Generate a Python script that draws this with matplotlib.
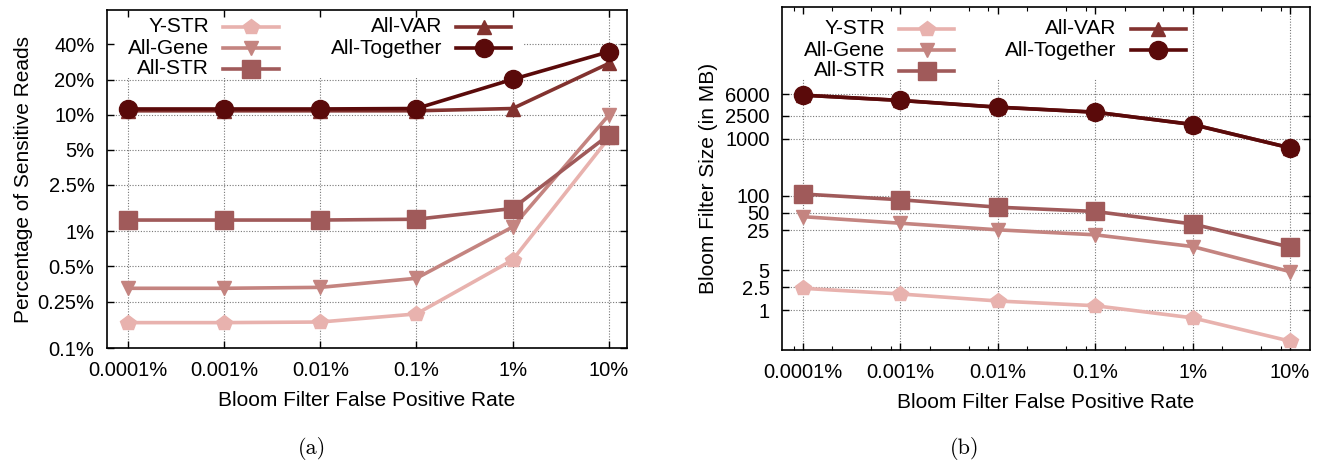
import matplotlib
matplotlib.use("Agg")
import matplotlib.pyplot as plt
from matplotlib.patches import Rectangle
from matplotlib.ticker import FixedLocator, NullLocator, LogLocator

plt.rcParams["font.family"] = ["Liberation Sans", "DejaVu Sans"]
plt.rcParams["font.size"] = 15
plt.rcParams["xtick.labelsize"] = 14.5
plt.rcParams["ytick.labelsize"] = 14.5

# false positive rate (%) on the x axis
fpr = [1e-4, 1e-3, 1e-2, 1e-1, 1, 10]
fpr_labels = ["0.0001%", "0.001%", "0.01%", "0.1%", "1%", "10%"]

series = ["Y-STR", "All-Gene", "All-STR", "All-VAR", "All-Together"]
colors = ["#e8b2ae", "#c48480", "#a05a5a", "#82322f", "#5a0a0a"]
markers = ["p", "v", "s", "^", "o"]
msizes = [11.5, 10, 12.5, 10, 13]

# (a) percentage of sensitive reads
sens_ystr = [0.165, 0.165, 0.167, 0.196, 0.568, 6.3]
sens_gene = [0.325, 0.325, 0.331, 0.396, 1.09, 9.9]
sens_str = [1.25, 1.25, 1.25, 1.27, 1.57, 6.7]
sens_var = [10.8, 10.8, 10.8, 10.8, 11.3, 27.5]
sens_all = [11.2, 11.2, 11.2, 11.3, 20.1, 34.6]
sens_ticks = [0.1, 0.25, 0.5, 1, 2.5, 5, 10, 20, 40]
sens_tick_labels = ["0.1%", "0.25%", "0.5%", "1%", "2.5%", "5%", "10%", "20%", "40%"]

# (b) bloom filter size in MB
size_ystr = [2.4, 1.91, 1.44, 1.19, 0.73, 0.286]
size_gene = [43, 33, 25.3, 20.7, 12.9, 4.7]
size_str = [107, 85, 63, 53, 32, 12.6]
size_var = [5740, 4640, 3540, 2890, 1760, 687]
size_all = [5740, 4640, 3540, 2890, 1760, 687]
size_ticks = [1, 2.5, 5, 25, 50, 100, 1000, 2500, 6000]
size_tick_labels = ["1", "2.5", "5", "25", "50", "100", "1000", "2500", "6000"]

fig = plt.figure(figsize=(13.25, 4.61), dpi=100)
ax_a = fig.add_axes([107 / 1325, 1 - 348 / 461, 520 / 1325, 338 / 461])
ax_b = fig.add_axes([782 / 1325, 1 - 350 / 461, 528 / 1325, 343 / 461])

grid_kw = dict(color="#777777", lw=0.8, ls=(0, (1, 1.5)), zorder=0.5)


def style_axes(ax, yticks, ylabels, ylim, xlim, minor_x):
    ax.set_xscale("log")
    ax.set_yscale("log")
    ax.set_xlim(*xlim)
    ax.set_ylim(*ylim)
    ax.xaxis.set_major_locator(FixedLocator(fpr))
    ax.set_xticklabels(fpr_labels)
    if minor_x:
        ax.xaxis.set_minor_locator(LogLocator(base=10, subs=[2, 5, 8]))
    else:
        ax.xaxis.set_minor_locator(NullLocator())
    ax.xaxis.set_minor_formatter(plt.NullFormatter())
    ax.yaxis.set_major_locator(FixedLocator(yticks))
    ax.set_yticklabels(ylabels)
    ax.yaxis.set_minor_locator(NullLocator())
    ax.tick_params(which="major", direction="in", length=5, width=1, top=True, right=True, pad=9)
    ax.tick_params(which="minor", direction="in", length=3, width=0.8, top=True, right=True)
    for s in ax.spines.values():
        s.set_linewidth(1.2)
    for t in fpr:
        ax.axvline(t, **grid_kw)
    for t in yticks:
        ax.axhline(t, **grid_kw)
    ax.set_axisbelow("line")
    ax.set_xlabel("Bloom Filter False Positive Rate", labelpad=8)


def legend_box(ax, col_text, col_line, col_mark, rows_px, ax_h_px, box):
    ax.add_patch(Rectangle((0, box[1]), box[0], 1 - box[1], transform=ax.transAxes,
                           facecolor="white", edgecolor="none", zorder=0.8))
    slots = [(0, 0), (0, 1), (0, 2), (1, 0), (1, 1)]
    for i, (c, r) in enumerate(slots):
        y = 1 - rows_px[r] / ax_h_px
        ax.text(col_text[c], y, series[i], transform=ax.transAxes, ha="right", va="center")
        ax.plot(col_line[c], [y, y], color=colors[i], lw=2.6, transform=ax.transAxes,
                clip_on=False, zorder=3)
        ax.plot([col_mark[c]], [y], marker=markers[i], ms=msizes[i], color=colors[i],
                transform=ax.transAxes, clip_on=False, zorder=3)


style_axes(ax_a, sens_ticks, sens_tick_labels, (0.1, 79),
           (10 ** -4.218, 10 ** 1.19), False)
for i, vals in enumerate([sens_ystr, sens_gene, sens_str, sens_var, sens_all]):
    ax_a.plot(fpr, vals, color=colors[i], lw=2.6, marker=markers[i], ms=msizes[i], zorder=2 + i * 0.1)
ax_a.set_ylabel("Percentage of Sensitive Reads", labelpad=3)
legend_box(ax_a, [0.196, 0.644], [[0.223, 0.331], [0.671, 0.777]], [0.277, 0.725],
           [17, 38, 59], 338, (0.80, 0.80))

style_axes(ax_b, size_ticks, size_tick_labels, (0.2, 2e5),
           (10 ** -4.216, 10 ** 1.205), True)
for i, vals in enumerate([size_ystr, size_gene, size_str, size_var, size_all]):
    ax_b.plot(fpr, vals, color=colors[i], lw=2.6, marker=markers[i], ms=msizes[i], zorder=2 + i * 0.1)
ax_b.set_ylabel("Bloom Filter Size (in MB)", labelpad=5)
legend_box(ax_b, [0.196, 0.634], [[0.222, 0.326], [0.661, 0.765]], [0.275, 0.712],
           [22, 43, 64], 343, (0.77, 0.79))

fig.text(312 / 1325, 1 - 448 / 461, "(a)", family="cmr10", fontsize=16, ha="center", va="center")
fig.text(965 / 1325, 1 - 448 / 461, "(b)", family="cmr10", fontsize=16, ha="center", va="center")

fig.savefig("out.png", dpi=100)
